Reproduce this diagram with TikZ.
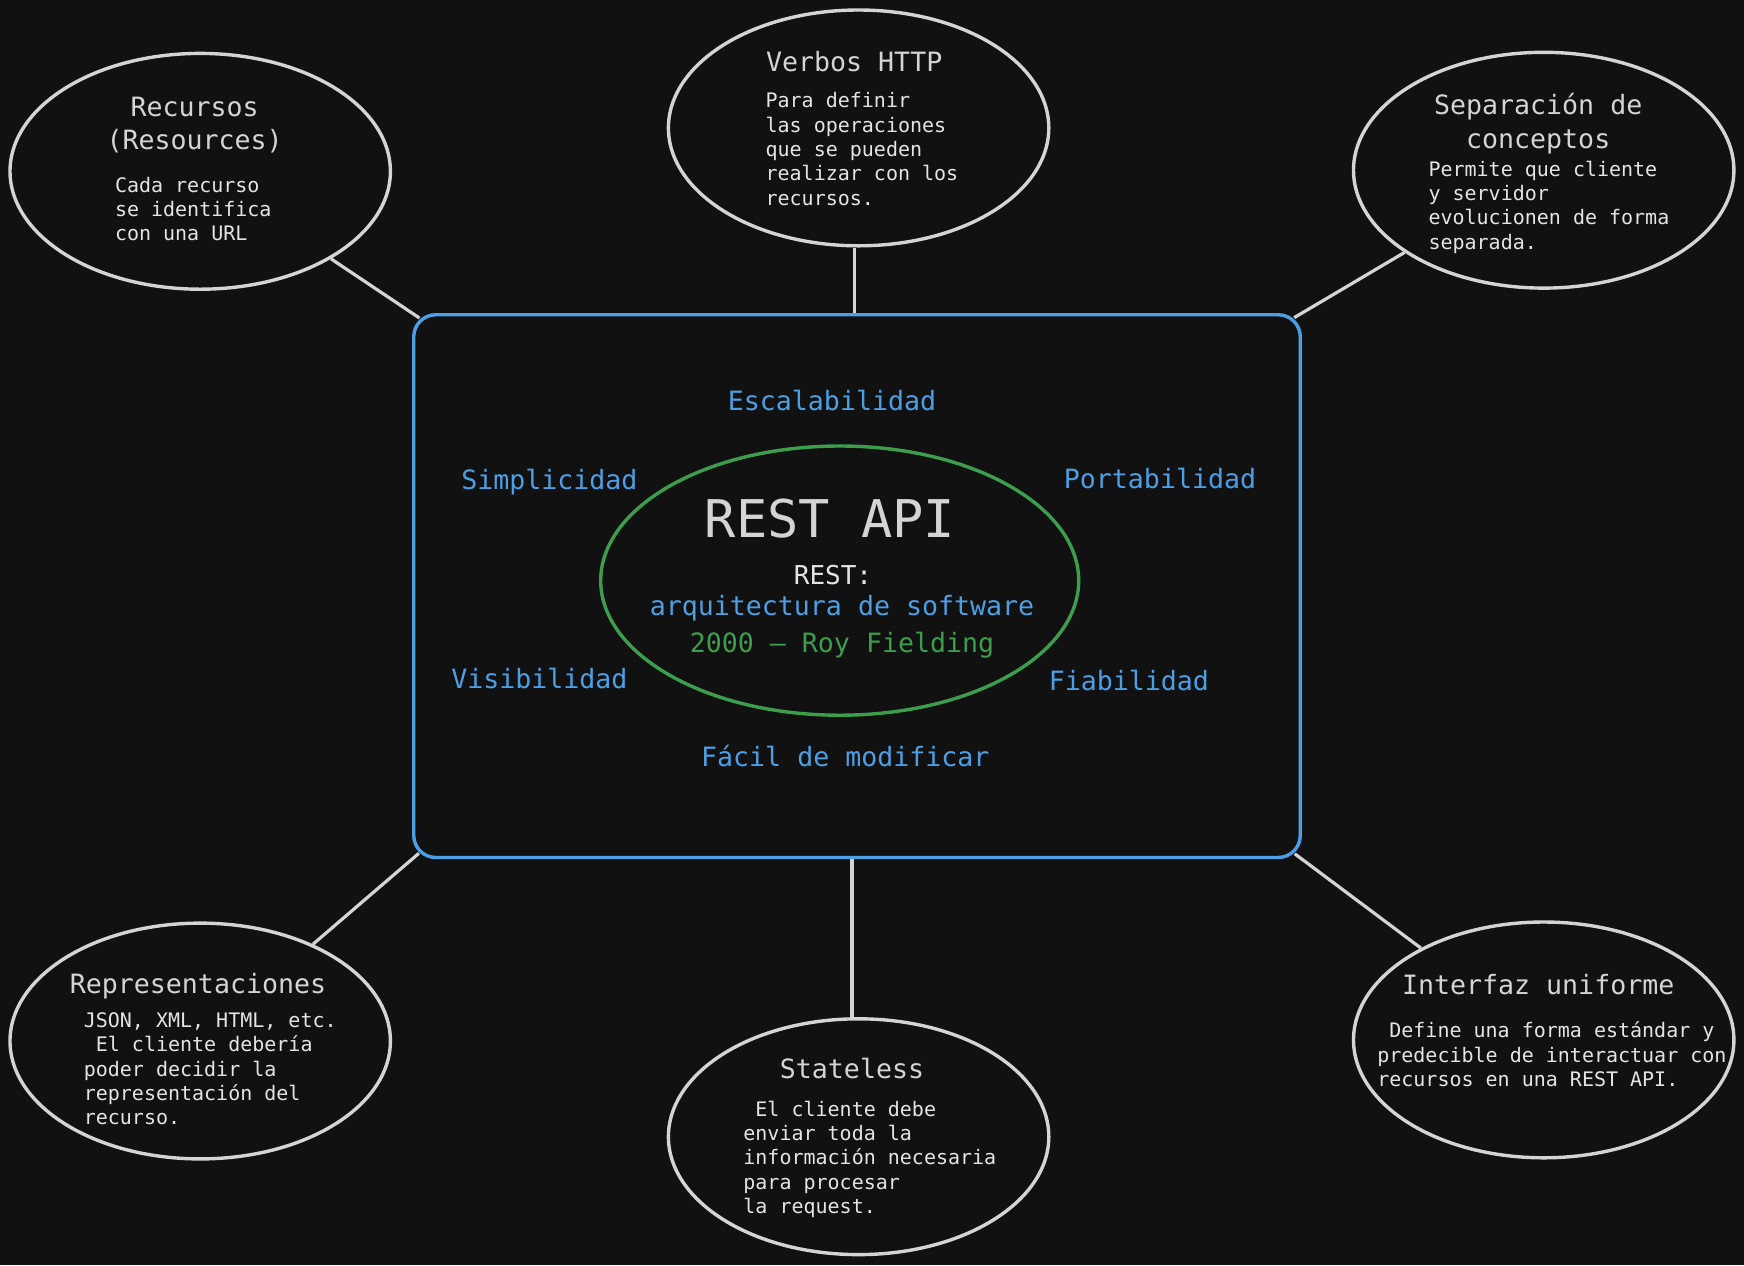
\documentclass[tikz,border=0pt]{standalone}
\usepackage{fontspec}
\setmainfont{DejaVu Sans Mono}
\usetikzlibrary{shapes.geometric}
\definecolor{bg}{HTML}{111111}
\definecolor{restblue}{HTML}{4C9FE5}
\definecolor{restgreen}{HTML}{3C9E4C}
\definecolor{pale}{HTML}{D4D4D4}
\definecolor{bodytxt}{HTML}{E4E4E4}
\begin{document}
\begin{tikzpicture}[x=0.5pt,y=-0.5pt,
 topic/.style={ellipse,draw=pale,line width=1.7pt,minimum width=190.2pt,minimum height=117.9pt,inner sep=0pt},
 topictitle/.style={text=pale,align=center,inner sep=0pt,font=\fontsize{13.3}{16.7}\selectfont},
 topicbody/.style={text=bodytxt,align=left,anchor=north west,inner sep=0pt,font=\fontsize{10}{12.2}\selectfont},
 feat/.style={text=restblue,inner sep=0pt,font=\fontsize{13.3}{16}\selectfont},
 link/.style={draw=pale,line width=1.6pt}]
 \useasboundingbox[fill=bg](0,0) rectangle (1744,1265);
 % centre
 \node[draw=restblue,line width=1.7pt,rounded corners=11pt,minimum width=443.25pt,minimum height=271.35pt] (core) at (857,586.1) {};
 \node[ellipse,draw=restgreen,line width=1.7pt,minimum width=239pt,minimum height=134.6pt] (rest) at (839.7,580.6) {};
 \node[text=pale,inner sep=0pt,font=\fontsize{26}{30}\selectfont] (restapi) at (830,519) {REST API};
 \node[text=bodytxt,inner sep=0pt,font=\fontsize{13}{16}\selectfont] (restlbl) at (833,575) {REST:};
 \node[feat] (arq) at (842,608.5) {arquitectura de software};
 \node[text=restgreen,inner sep=0pt,font=\fontsize{13.3}{16}\selectfont] (fielding) at (842,645) {2000 – Roy Fielding};
 % features
 \node[feat] (escal) at (832,400) {Escalabilidad};
 \node[feat] (simpl) at (549.4,482.5) {Simplicidad};
 \node[feat] (porta) at (1160,478.5) {Portabilidad};
 \node[feat] (visib) at (539.4,678) {Visibilidad};
 \node[feat] (fiab) at (1128.9,680) {Fiabilidad};
 \node[feat] (facil) at (845.3,756.3) {Fácil de modificar};
 % topics
 \node[topic] (recursos) at (200.2,171.3) {};
 \node[topic] (verbos) at (858.6,127.9) {};
 \node[topic] (separacion) at (1543.7,170.2) {};
 \node[topic] (repres) at (200.2,1041) {};
 \node[topic] (stateless) at (858.6,1136.7) {};
 \node[topic] (interfaz) at (1543.7,1039.9) {};
 % texts
 \node[topictitle] (recursostit) at (194.6,125) {Recursos\\(Resources)};
 \node[topicbody] (recursostxt) at (114.6,176.5) {Cada recurso\\se identifica\\con una URL};
 \node[topictitle] (verbostit) at (854.2,61.5) {Verbos HTTP};
 \node[topicbody] (verbostxt) at (765.2,92) {Para definir\\las operaciones\\que se pueden\\realizar con los\\recursos.};
 \node[topictitle] (separaciontit) at (1538.2,123.5) {Separación de\\conceptos};
 \node[topicbody] (separaciontxt) at (1428.1,160.4) {Permite que cliente\\y servidor\\evolucionen de forma\\separada.};
 \node[topictitle] (represtit) at (198,986) {Representaciones};
 \node[topicbody] (represtxt) at (83.4,1012) {JSON, XML, HTML, etc.\\\phantom{x}El cliente debería\\poder decidir la\\representación del\\recurso.};
 \node[topictitle] (statelesstit) at (852,1068.5) {Stateless};
 \node[topicbody] (statelesstxt) at (743,1100.3) {\phantom{x}El cliente debe\\enviar toda la\\información necesaria\\para procesar\\la request.};
 \node[topictitle] (interfaztit) at (1538.2,984.5) {Interfaz uniforme};
 \node[topicbody] (interfaztxt) at (1376.9,1021.3) {\phantom{x}Define una forma estándar y\\predecible de interactuar con\\recursos en una REST API.};
 % links
 \draw[link,shorten >=-4.5pt] (recursos) -- (core.north west);
 \draw[link] (verbos.south -| verbostit) -- (core.north -| verbostit);
 \draw[link,shorten >=-4.5pt] (separacion) -- (core.north east);
 \draw[link,shorten >=-4.5pt] (repres) -- (core.south west);
 \draw[link] (stateless.north -| statelesstit) -- (core.south -| statelesstit);
 \draw[link,shorten >=-4.5pt] (interfaz) -- (core.south east);
\end{tikzpicture}
\end{document}
